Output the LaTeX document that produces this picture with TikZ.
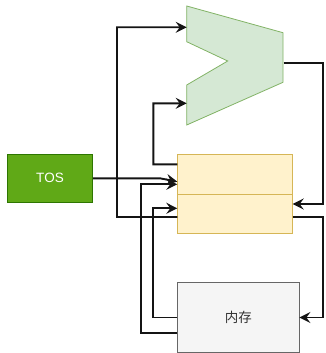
\documentclass[tikz,border=0pt]{standalone}
\usepackage{fontspec}
\setmainfont{Liberation Sans}
\newfontfamily\cjk{Noto Sans CJK SC}
\usetikzlibrary{arrows.meta}

\definecolor{addfill}{HTML}{D5E8D4}
\definecolor{addline}{HTML}{82B366}
\definecolor{regfill}{HTML}{FFF2CC}
\definecolor{regline}{HTML}{D6B656}
\definecolor{tosfill}{HTML}{60A917}
\definecolor{tosline}{HTML}{2D7600}
\definecolor{memfill}{HTML}{F5F5F5}
\definecolor{memline}{HTML}{666666}
\definecolor{memtext}{HTML}{333333}

\tikzset{
  box/.style={draw, line width=0.8pt, inner sep=0pt, font=\fontsize{13.5}{16}\selectfont},
  tosbox/.style={box, fill=tosfill, draw=tosline, text=white},
  regbox/.style={box, fill=regfill, draw=regline},
  membox/.style={box, fill=memfill, draw=memline, text=memtext},
  adder/.style={fill=addfill, draw=addline, line width=0.8pt, line join=miter},
  wire/.style={line width=1.9pt, draw=black!92, line join=miter,
    -{Stealth[length=11pt,width=11pt,inset=4pt]}}
}

\begin{document}
\begin{tikzpicture}[x=1pt,y=-1pt]
\useasboundingbox (0,0) rectangle (325,353);

% adder (ALU) outline with notched input side
\draw[adder] (186.7,6) -- (283,32.7) -- (283,82.3) -- (186.7,125)
  -- (186.7,85) -- (227.7,61) -- (186.7,41.7) -- cycle;
\coordinate (addA) at (186.7,27.3);
\coordinate (addB) at (186.7,103.3);
\coordinate (addOut) at (283.5,63.3);

% boxes
\node[tosbox, minimum width=85.4pt, minimum height=48pt] (tos) at (50,178.3) {TOS};
\node[regbox, minimum width=114.6pt, minimum height=39.7pt] (regU) at (235,174.15) {};
\node[regbox, minimum width=114.6pt, minimum height=39.3pt] (regL) at (235,213.65) {};
\node[membox, minimum width=121.3pt, minimum height=69.6pt] (mem) at (238.35,317.5) {\cjk 内存};

% lower register -> adder input A
\draw[wire] ([yshift=-3.3pt]regL.west) -- (117,217) |- (addA);
% upper register -> adder input B
\draw[wire] ([yshift=9.85pt]regU.west) -- (153.3,164.3) |- (addB);
% adder output -> lower register
\draw[wire] (addOut) -- (322.7,63.3) |- ([yshift=9.65pt]regL.east);
% lower register -> memory
\draw[wire] ([yshift=-3pt]regL.east) -- (322.7,216.65) |- (mem.east);
% TOS -> upper register
\draw[wire] (tos.east) -- (160,178.3) -- ([yshift=-7.5pt]regU.west);
% memory -> upper register
\draw[wire] ([yshift=-15.2pt]mem.west) -- (141.2,332.7) |- ([yshift=-10.15pt]regU.west);
% memory -> lower register
\draw[wire] (mem.west) -- (152.8,317.5) |- ([yshift=5.35pt]regL.west);
\end{tikzpicture}
\end{document}
